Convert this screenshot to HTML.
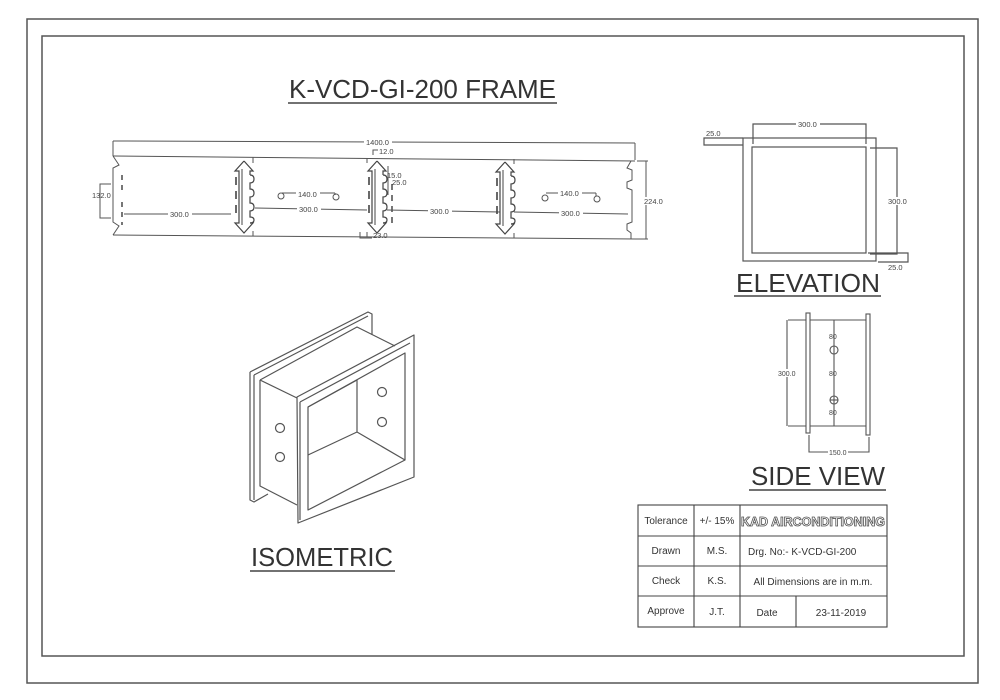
<!DOCTYPE html>
<html><head><meta charset="utf-8"><style>
html,body{margin:0;padding:0;background:#fff;}
svg{display:block;font-family:"Liberation Sans",sans-serif;}
</style></head><body>
<svg width="1000" height="700" viewBox="0 0 1000 700" xmlns="http://www.w3.org/2000/svg">
<defs>
<g id="conn" fill="none" stroke="#444" stroke-width="1.2">
<path d="M0,-36 L9,-26 L6,-26 L6,-22 M0,-36 L-9,-26 L-5,-26 L-5,26 L-9,26 L0,36 L9,26 L6,26"/>
<path d="M6,-22 q4,0 4,4 q0,4 -4,4 L6,-8 q4,0 4,4 q0,4 -4,4 L6,6 q4,0 4,4 q0,4 -4,4 L6,20 q4,0 4,3 q0,3 -4,3"/>
<path d="M-2,-28 L-2,28" stroke-width="1"/>
<path d="M-8,-20 v8 M-8,-6 v8 M-8,8 v8" stroke-width="1.6"/>
</g>
</defs>
<rect x="27" y="19" width="951" height="664" fill="none" stroke="#555" stroke-width="1.5"/>
<rect x="42" y="36" width="922" height="620" fill="none" stroke="#555" stroke-width="1.5"/>

<text x="289" y="98" font-size="26" textLength="267" lengthAdjust="spacingAndGlyphs" fill="#333">K-VCD-GI-200 FRAME</text>
<line x1="288" y1="103" x2="557" y2="103" stroke="#444" stroke-width="1.5"/>

<g fill="none" stroke="#555" stroke-width="1">
<line x1="113" y1="141" x2="635" y2="143"/>
<line x1="113" y1="141" x2="113" y2="156"/><line x1="635" y1="143" x2="635" y2="160"/>
<line x1="113" y1="156" x2="635" y2="161"/>
<line x1="113" y1="235" x2="637" y2="239"/>
<path d="M113,156 L119,165 L113,168 L113,222 L119,226 L113,235"/>
<path d="M631,161 L627,168 L632,170 L632,180 L627,182 L627,188 L632,190 L632,222 L627,224 L627,230 L631,233 L631,239"/>
<line x1="637" y1="161" x2="648" y2="161"/><line x1="637" y1="239" x2="648" y2="239"/>
<line x1="646" y1="161" x2="646" y2="239"/>
<path d="M111,184 L100,184 L100,218 L111,218"/>
<line x1="122" y1="175" x2="122" y2="195" stroke-width="1.6" stroke-dasharray="5,5"/>
<line x1="122" y1="202" x2="122" y2="225" stroke-width="1.6" stroke-dasharray="5,5"/>
<line x1="124" y1="214" x2="231" y2="214"/>
<line x1="255" y1="208" x2="367" y2="210"/>
<line x1="387" y1="210" x2="500" y2="212"/>
<line x1="514" y1="212" x2="628" y2="214"/>
<line x1="253" y1="157" x2="253" y2="163"/><line x1="253" y1="231" x2="253" y2="236"/>
<line x1="367" y1="158" x2="367" y2="163"/><line x1="367" y1="232" x2="367" y2="237"/>
<line x1="514" y1="159" x2="514" y2="164"/><line x1="514" y1="233" x2="514" y2="238"/>
<line x1="392" y1="184" x2="392" y2="224" stroke-width="1.6" stroke-dasharray="6,5"/>
<circle cx="281" cy="196" r="3"/><circle cx="336" cy="197" r="3"/>
<line x1="282" y1="193" x2="335" y2="193"/><line x1="335" y1="193" x2="335" y2="195"/>
<circle cx="545" cy="198" r="3"/><circle cx="597" cy="199" r="3"/>
<line x1="546" y1="193" x2="596" y2="193"/><line x1="596" y1="193" x2="596" y2="196"/>
<path d="M360,232 L360,238 L372,238"/>
<path d="M373,155 L373,150 L378,150"/>
<path d="M388,166 L388,195"/>
</g>
<use href="#conn" x="244" y="197"/>
<use href="#conn" x="377" y="197"/>
<use href="#conn" x="505" y="198"/>
<g font-size="7.5" fill="#444">
<rect x="364" y="138" width="28" height="8" fill="#fff"/>
<text x="366" y="145">1400.0</text>
<text x="379" y="154">12.0</text>
<text x="387" y="178">15.0</text>
<text x="392" y="185">25.0</text>
<text x="92" y="198">132.0</text>
<rect x="168" y="210" width="24" height="8" fill="#fff"/><text x="170" y="217">300.0</text>
<rect x="297" y="205" width="24" height="8" fill="#fff"/><text x="299" y="212">300.0</text>
<rect x="428" y="207" width="24" height="8" fill="#fff"/><text x="430" y="214">300.0</text>
<rect x="559" y="209" width="24" height="8" fill="#fff"/><text x="561" y="216">300.0</text>
<rect x="296" y="190" width="24" height="8" fill="#fff"/><text x="298" y="197">140.0</text>
<rect x="558" y="189" width="24" height="8" fill="#fff"/><text x="560" y="196">140.0</text>
<text x="373" y="238">23.0</text>
<rect x="642" y="197" width="24" height="8" fill="#fff"/><text x="644" y="204">224.0</text>
</g>

<g fill="none" stroke="#555" stroke-width="1.2">
<rect x="743" y="138" width="133" height="123"/>
<rect x="752" y="147" width="114" height="106"/>
<path d="M753,144 L753,124 L866,124 L866,144"/>
<path d="M743,138 L704,138 L704,145 L743,145"/>
<path d="M870,148 L897,148 L897,254 L870,254"/>
<path d="M868,253 L908,253 L908,262 L878,262"/>
</g>
<g font-size="7.5" fill="#444">
<rect x="796" y="120" width="24" height="8" fill="#fff"/><text x="798" y="127">300.0</text>
<text x="706" y="136">25.0</text>
<rect x="887" y="197" width="22" height="8" fill="#fff"/><text x="888" y="204">300.0</text>
<text x="888" y="270">25.0</text>
</g>
<text x="736" y="292" font-size="26" textLength="144" lengthAdjust="spacingAndGlyphs" fill="#333">ELEVATION</text>
<line x1="734" y1="296" x2="881" y2="296" stroke="#444" stroke-width="1.5"/>

<g fill="none" stroke="#555" stroke-width="1.1">
<rect x="806" y="313" width="4" height="120"/>
<rect x="866" y="314" width="4" height="121"/>
<line x1="810" y1="320" x2="866" y2="320"/>
<line x1="810" y1="426" x2="866" y2="426"/>
<line x1="788" y1="320" x2="806" y2="320"/>
<line x1="788" y1="426" x2="806" y2="426"/>
<line x1="787" y1="320" x2="787" y2="426"/>
<line x1="834" y1="320" x2="834" y2="426"/>
<circle cx="834" cy="350" r="4"/>
<circle cx="834" cy="400" r="4"/>
<line x1="830" y1="400" x2="838" y2="400"/>
<path d="M809,435 L809,452 L869,452 L869,437"/>
</g>
<g font-size="7" fill="#444">
<text x="829" y="339">80</text><text x="829" y="376">80</text><text x="829" y="415">80</text>
<rect x="777" y="369" width="22" height="8" fill="#fff"/><text x="778" y="376">300.0</text>
<rect x="828" y="448" width="20" height="8" fill="#fff"/><text x="829" y="455">150.0</text>
</g>
<text x="751" y="485" font-size="26" textLength="134" lengthAdjust="spacingAndGlyphs" fill="#333">SIDE VIEW</text>
<line x1="749" y1="490" x2="886" y2="490" stroke="#444" stroke-width="1.5"/>

<g fill="none" stroke="#555" stroke-width="1.2" stroke-linejoin="round">
<path d="M250,372 L368,312 L372,314 L372,335"/>
<path d="M254,375 L368,316"/>
<path d="M250,372 L250,500 L254,502 L268,494"/>
<path d="M254,375 L254,500"/>
<path d="M260,380 L260,486 L297,505"/>
<path d="M260,380 L357,327 L395,346"/>
<path d="M260,380 L297,398"/>
<path d="M297,397 L414,335 L414,477 L298,523 Z"/>
<path d="M300,402 L410,343 M300,402 L300,520"/>
<path d="M308,407 L405,353 L405,460 L308,510 Z"/>
<path d="M357,380 L357,432 L308,455 M357,432 L405,460 M357,380 L308,407"/>
<circle cx="280" cy="428" r="4.5"/>
<circle cx="280" cy="457" r="4.5"/>
<circle cx="382" cy="392" r="4.5"/>
<circle cx="382" cy="422" r="4.5"/>
</g>
<text x="251" y="566" font-size="26" textLength="142" lengthAdjust="spacingAndGlyphs" fill="#333">ISOMETRIC</text>
<line x1="250" y1="571" x2="395" y2="571" stroke="#444" stroke-width="1.5"/>

<g fill="none" stroke="#444" stroke-width="1.1">
<rect x="638" y="505" width="249" height="122"/>
<line x1="694" y1="505" x2="694" y2="627"/>
<line x1="740" y1="505" x2="740" y2="627"/>
<line x1="796" y1="596" x2="796" y2="627"/>
<line x1="638" y1="536" x2="887" y2="536"/>
<line x1="638" y1="566" x2="887" y2="566"/>
<line x1="638" y1="596" x2="887" y2="596"/>
</g>
<g font-size="10" fill="#333" text-anchor="middle">
<text x="666" y="524">Tolerance</text><text x="717" y="524">+/- 15%</text>
<text x="813" y="526" font-size="12.5" font-weight="bold" fill="#fff" stroke="#555" stroke-width="0.8">KAD AIRCONDITIONING</text>
<text x="666" y="554">Drawn</text><text x="717" y="554">M.S.</text>
<text x="748" y="555" text-anchor="start">Drg. No:- K-VCD-GI-200</text>
<text x="666" y="584">Check</text><text x="717" y="584">K.S.</text>
<text x="813" y="585">All Dimensions are in m.m.</text>
<text x="666" y="614">Approve</text><text x="717" y="615">J.T.</text>
<text x="767" y="616">Date</text><text x="841" y="616">23-11-2019</text>
</g>
</svg>
</body></html>
